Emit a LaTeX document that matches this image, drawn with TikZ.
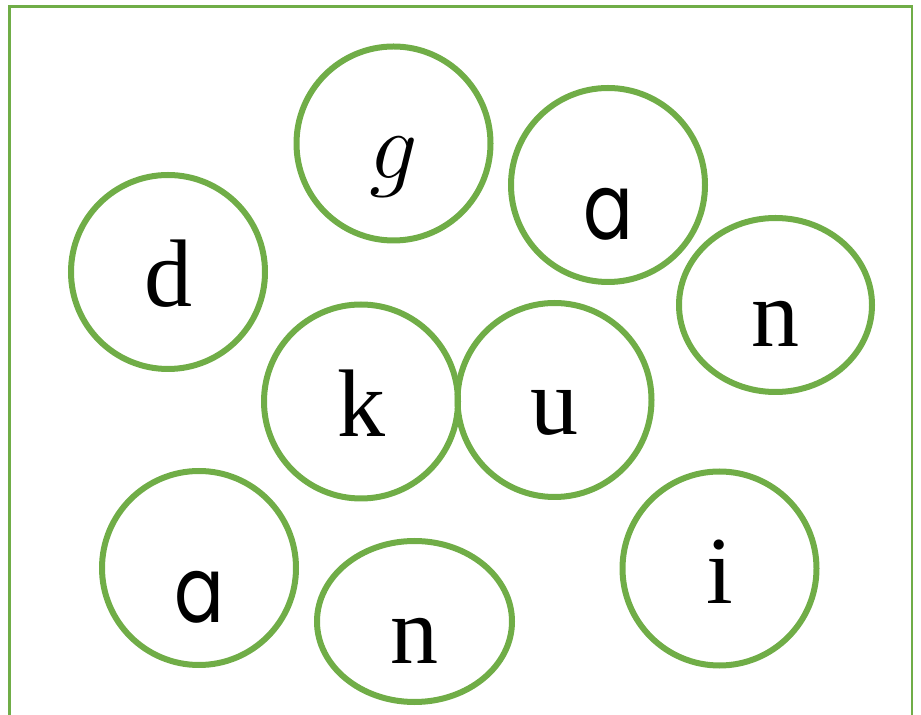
\RequirePackage{fix-cm}
\documentclass[tikz,border=0pt]{standalone}
\usepackage{fontspec}
\setmainfont{Liberation Serif}
\newfontfamily\roundfont{Poppins}
\usepackage{graphicx}
\usepackage{tikz}
\usetikzlibrary{shapes.geometric}
\definecolor{leaf}{RGB}{112,173,71}

\begin{document}
\begin{tikzpicture}[
    x=0.5pt, y=-0.5pt,
    ball/.style={draw=leaf, line width=3pt, circle, minimum size=97pt, inner sep=0pt,
        font=\fontsize{48}{56}\selectfont, text height=35pt, text depth=0pt},
    oval/.style={ball, ellipse, text height=42pt},
    roundletter/.style={font=\roundfont\fontsize{46}{54}\selectfont, text height=55pt}
]
    \useasboundingbox (0,0) rectangle (921,715);

    % Frame
    \draw[leaf, line width=1.25pt] (9.5,740) -- (9.5,6.5) -- (912,6.5) -- (912,740);

    % Top row
    \node[ball] (g) at (393.5,143.5) {$g$};
    \node[ball, roundletter] (atop) at (608,185) {\scalebox{0.8}[1]{a}};
    \node[ball] (d) at (168,272) {d};
    \node[oval, minimum width=96.5pt, minimum height=87pt] (nright) at (775.5,305) {n};

    % Middle
    \node[ball] (k) at (361,401.5) {k};
    \node[ball] (u) at (554.5,400) {u};

    % Bottom row
    \node[ball, roundletter] (abottom) at (199,568) {\scalebox{0.8}[1]{a}};
    \node[oval, minimum width=97.5pt, minimum height=80.5pt] (nbottom) at (414.5,621.5) {n};
    \node[ball] (i) at (719.5,568.5) {i};
\end{tikzpicture}
\end{document}
